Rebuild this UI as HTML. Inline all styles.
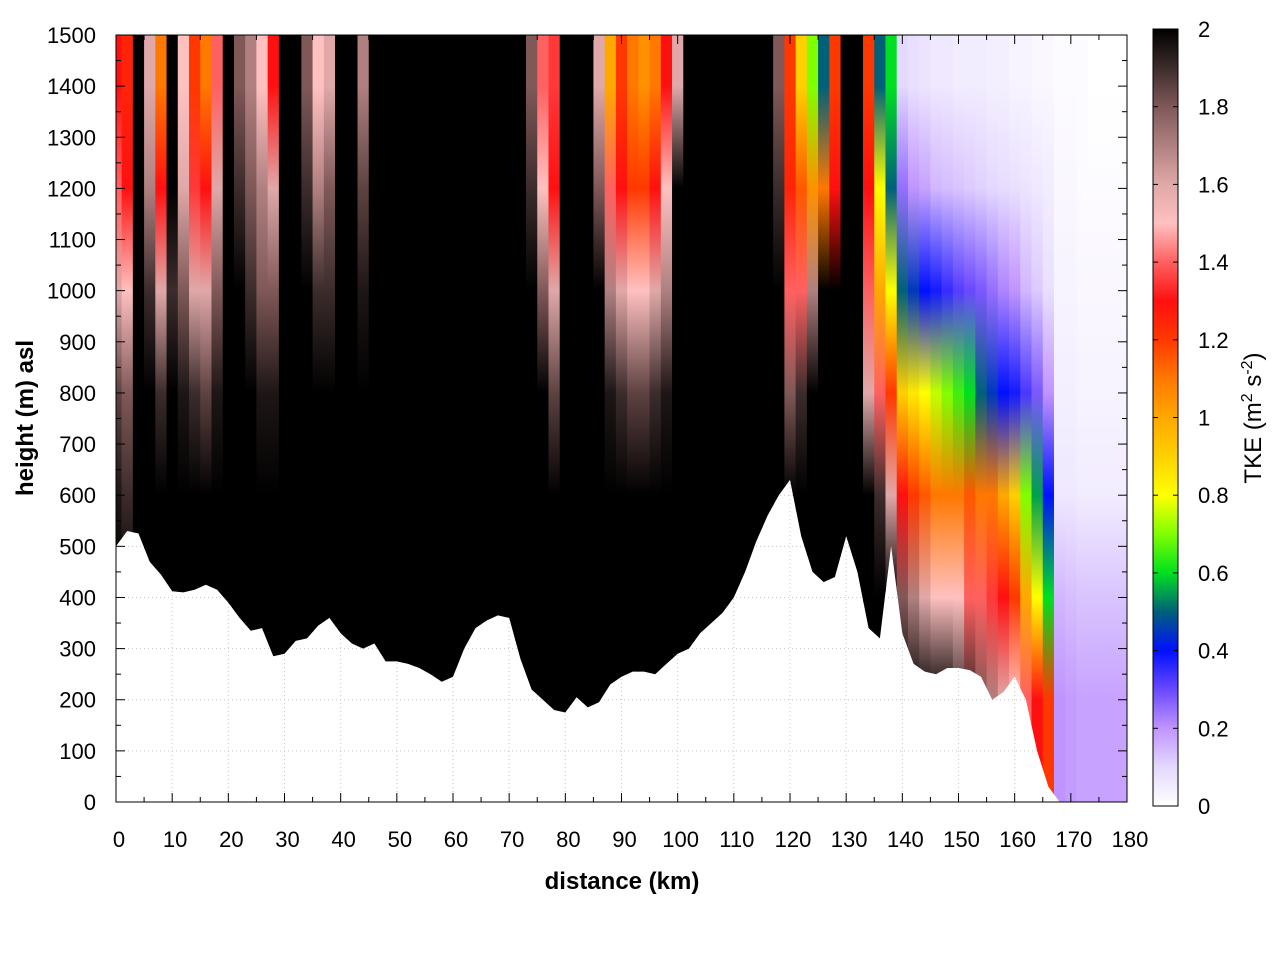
<!DOCTYPE html>
<html><head><meta charset="utf-8"><style>
html,body{margin:0;padding:0;background:#fff;}
svg{display:block;font-family:"Liberation Sans",sans-serif;}
</style></head><body>
<svg id="chart" width="1280" height="960">
<defs id="defs"></defs>
<g id="grid"></g>
<g id="cells"></g>
<g id="axes"></g>
<g id="cbar"></g>
<text x="622" y="889" text-anchor="middle" font-size="24" font-weight="bold">distance (km)</text>
<text transform="translate(33,418) rotate(-90)" text-anchor="middle" font-size="24" font-weight="bold">height (m) asl</text>
<text transform="translate(1261,418) rotate(-90)" text-anchor="middle" font-size="24">TKE (m<tspan dy="-9" font-size="16">2</tspan><tspan dy="9"> s</tspan><tspan dy="-9" font-size="16">-2</tspan><tspan dy="9">)</tspan></text>
</svg>
<script>
// distance columns every 2 km, 0..180
const distances = [0,2,4,6,8,10,12,14,16,18,20,22,24,26,28,30,32,34,36,38,40,42,44,46,48,50,52,54,56,58,60,62,64,66,68,70,72,74,76,78,80,82,84,86,88,90,92,94,96,98,100,102,104,106,108,110,112,114,116,118,120,122,124,126,128,130,132,134,136,138,140,142,144,146,148,150,152,154,156,158,160,162,164,166,168,170,172,174,176,178,180];
const terrain = [500,530,525,470,445,412,410,415,425,415,390,360,335,340,285,290,315,320,345,360,330,310,300,310,275,275,270,262,250,235,245,300,340,355,365,360,280,220,200,180,175,205,185,195,230,245,255,255,250,270,290,300,330,350,370,400,450,510,560,600,630,520,450,430,440,520,450,340,320,500,330,270,255,250,262,262,258,245,200,215,245,200,100,30,0,0,0,0,0,0,0];
const levels = [1400,1200,1000,800,600,400,200];
const tke1400 = [1.3,1.25,2,1.6,1.1,2,1.5,1.2,1.1,1.4,2,1.8,1.7,1.5,1.3,2,2,1.8,1.5,1.6,2,
 2,1.7,2,2,2,2,2,2,2,2,2,2,2,2,2,2,1.8,
 1.4,1.35,2,2,2,1.6,
 1.0,1.2,1.1,1.05,1.1,1.3,1.6,
 2,2,2,2,2,2,2,2,1.8,
 1.2,0.9,0.7,0.5,1.2,
 2,2,1.2,0.5,0.6,
 0.1,0.08,0.07,0.06,0.06,0.05,0.05,0.05,0.04,0.04,0.03,0.03,0.02,0.02,
 0.01,0.01,0.01,0.0,0.0,0.0,0.0];
const tke1200 = [1.4,1.3,2,1.7,1.3,2,1.6,1.35,1.3,1.6,2,1.9,1.8,1.7,1.6,2,2,1.9,1.7,1.8,2,
 2,1.85,2,2,2,2,2,2,2,2,2,2,2,2,2,2,1.9,
 1.5,1.3,2,2,2,1.8,
 1.4,1.3,1.2,1.2,1.3,1.5,2,
 2,2,2,2,2,2,2,2,1.9,
 1.25,1.15,1.05,1.1,1.3,
 2,2,1.3,0.8,0.5,
 0.25,0.2,0.18,0.15,0.14,0.13,0.12,0.11,0.1,0.09,0.08,0.07,0.06,0.05,
 0.02,0.02,0.01,0.01,0.01,0.01,0.01];
const tke1000 = [1.6,1.5,2,1.9,1.6,1.9,1.8,1.6,1.6,1.8,2,2,1.9,1.8,1.8,2,2,2,1.9,1.9,2,
 2,1.95,2,2,2,2,2,2,2,2,2,2,2,2,2,2,2,
 1.8,1.6,2,2,2,2,
 1.7,1.6,1.5,1.5,1.6,1.7,2,
 2,2,2,2,2,2,2,2,2,
 1.4,1.4,1.7,2,2,
 2,2,1.4,1.0,0.8,
 0.5,0.45,0.4,0.38,0.35,0.32,0.3,0.28,0.25,0.22,0.2,0.15,0.12,0.08,
 0.03,0.03,0.02,0.02,0.02,0.02,0.02];
const tke800 = [1.85,1.8,2,2,1.9,2,1.95,1.9,1.85,1.95,2,2,2,1.95,1.95,2,2,2,2,2,2,
 2,2,2,2,2,2,2,2,2,2,2,2,2,2,2,2,2,
 2,1.85,2,2,2,2,
 1.95,1.9,1.85,1.85,1.9,1.95,2,
 2,2,2,2,2,2,2,2,2,
 1.8,1.9,2,2,2,
 2,2,1.6,1.4,1.2,
 0.9,0.85,0.8,0.75,0.7,0.65,0.6,0.5,0.45,0.4,0.38,0.33,0.28,0.2,
 0.04,0.04,0.03,0.03,0.03,0.03,0.03];
const tke600 = [1.95,1.9,2,2,2,2,2,2,2,2,2,2,2,2,2,2,2,2,2,2,2,
 2,2,2,2,2,2,2,2,2,2,2,2,2,2,2,2,2,
 2,2,2,2,2,2,
 2,2,2,2,2,2,2,
 2,2,2,2,2,2,2,2,2,
 2,2,2,2,2,
 2,2,2,1.9,1.6,
 1.3,1.2,1.15,1.1,1.1,1.1,1.15,1.1,1.1,1.0,0.9,0.7,0.55,0.4,
 0.06,0.06,0.05,0.05,0.05,0.05,0.05];
const tke400 = [2,2,2,2,2,2,2,2,2,2,2,2,2,2,2,2,2,2,2,2,2,
 2,2,2,2,2,2,2,2,2,2,2,2,2,2,2,2,2,
 2,2,2,2,2,2,
 2,2,2,2,2,2,2,
 2,2,2,2,2,2,2,2,2,
 2,2,2,2,2,
 2,2,2,2,2,
 1.8,1.7,1.6,1.5,1.5,1.5,1.4,1.4,1.35,1.3,1.2,1.0,0.8,0.6,
 0.15,0.14,0.13,0.13,0.13,0.13,0.13];
const tke200 = [2,2,2,2,2,2,2,2,2,2,2,2,2,2,2,2,2,2,2,2,2,
 2,2,2,2,2,2,2,2,2,2,2,2,2,2,2,2,2,
 2,2,2,2,2,2,
 2,2,2,2,2,2,2,
 2,2,2,2,2,2,2,2,2,
 2,2,2,2,2,
 2,2,2,2,2,
 2,2,2,2,2,1.9,1.9,1.8,1.7,1.6,1.5,1.4,1.3,1.2,
 0.2,0.19,0.18,0.18,0.18,0.18,0.18];
const xTicks = [0,10,20,30,40,50,60,70,80,90,100,110,120,130,140,150,160,170,180];
const yTicks = [0,100,200,300,400,500,600,700,800,900,1000,1100,1200,1300,1400,1500];
const cbTicks = ["0","0.2","0.4","0.6","0.8","1","1.2","1.4","1.6","1.8","2"];

const NS="http://www.w3.org/2000/svg";
const L=116,R=1127,T=35,B=802;
const xs=k=>L+(k/180)*(R-L);
const ys=h=>B-(h/1500)*(B-T);
const cmap=[[0,"#ffffff"],[0.1,"#e4d8ff"],[0.2,"#c094ff"],[0.3,"#6a48ff"],[0.4,"#0010ff"],[0.5,"#00607a"],[0.6,"#00e020"],[0.7,"#80ff00"],[0.8,"#ffff00"],[0.9,"#ffd000"],[1.0,"#ffa800"],[1.1,"#ff7800"],[1.2,"#ff3800"],[1.3,"#ff1010"],[1.4,"#ff6060"],[1.5,"#ffc0c0"],[1.6,"#e0a8a8"],[1.7,"#b08080"],[1.8,"#805858"],[1.9,"#3c2c2c"],[2,"#000000"]];
function hex(c){return [1,3,5].map(i=>parseInt(c.substr(i,2),16));}
function color(v){v=Math.max(0,Math.min(2,v));for(let i=1;i<cmap.length;i++){if(v<=cmap[i][0]){const a=cmap[i-1],b=cmap[i];const t=(v-a[0])/(b[0]-a[0]);const ca=hex(a[1]),cb=hex(b[1]);return "rgb("+ca.map((c,j)=>Math.round(c+(cb[j]-c)*t)).join(",")+")";}}return "#000";}
function el(tag,attrs,parent){const e=document.createElementNS(NS,tag);for(const k in attrs)e.setAttribute(k,attrs[k]);parent.appendChild(e);return e;}
const defs=document.getElementById('defs');
const grid=document.getElementById('grid');
const cells=document.getElementById('cells');
const axes=document.getElementById('axes');
const cbar=document.getElementById('cbar');

xTicks.forEach(k=>{const g=el('line',{x1:xs(k),x2:xs(k),y1:T,y2:B,stroke:'#c8c8c8','stroke-dasharray':'1,3','stroke-width':1},grid);

});
yTicks.forEach(h=>{const g=el('line',{x1:L,x2:R,y1:ys(h),y2:ys(h),stroke:'#c8c8c8','stroke-dasharray':'1,3','stroke-width':1},grid);

});

const cp=el('clipPath',{id:'above'},defs);
let d="M"+L+","+T;
distances.forEach((k,i)=>{d+=" L"+Math.max(L,Math.min(R,xs(k))).toFixed(1)+","+ys(terrain[i]).toFixed(1);});
d+=" L"+R+","+T+" Z";
el('path',{d:d},cp);
cells.setAttribute('clip-path','url(#above)');
const rows=[tke1400,tke1200,tke1000,tke800,tke600,tke400,tke200];
const w=(R-L)/90;
distances.forEach((k,i)=>{
  const gid='g'+i;
  const lg=el('linearGradient',{id:gid,gradientUnits:'userSpaceOnUse',x1:0,x2:0,y1:T,y2:B},defs);
  levels.forEach((h,j)=>{el('stop',{offset:((1500-h)/1500).toFixed(4),'stop-color':color(rows[j][i])},lg);});
  const x0=Math.max(L,xs(k)-w/2),x1=Math.min(R,xs(k)+w/2);
  const r=el('rect',{x:x0,y:T,width:x1-x0+0.6,height:B-T,fill:'url(#'+gid+')'},cells);
  
  
});

el('rect',{x:L,y:T,width:R-L,height:B-T,fill:'none',stroke:'#000','stroke-width':1},axes);
for(let k=0;k<=180;k+=5){const len=k%10===0?9:5;
 el('line',{x1:xs(k),x2:xs(k),y1:B,y2:B-len,stroke:'#000'},axes);
 el('line',{x1:xs(k),x2:xs(k),y1:T,y2:T+len,stroke:'#000'},axes);}
for(let h=0;h<=1500;h+=50){const len=h%100===0?9:5;
 el('line',{x1:L,x2:L+len,y1:ys(h),y2:ys(h),stroke:'#000'},axes);
 el('line',{x1:R,x2:R-len,y1:ys(h),y2:ys(h),stroke:'#000'},axes);}
xTicks.forEach(k=>{const t=el('text',{x:xs(k)+3,y:847,'text-anchor':'middle','font-size':22},axes);t.textContent=k;

});
yTicks.forEach(h=>{const t=el('text',{x:96,y:ys(h)+8,'text-anchor':'end','font-size':22},axes);t.textContent=h;

});

const CT=29,CB=806,CL=1153,CW=25;
const cg=el('linearGradient',{id:'cbg',x1:0,x2:0,y1:1,y2:0},defs);
cmap.forEach(s=>el('stop',{offset:s[0]/2,'stop-color':s[1]},cg));
const cr=el('rect',{x:CL,y:CT,width:CW,height:CB-CT,fill:'url(#cbg)',stroke:'#000'},cbar);


cbTicks.forEach((lab,i)=>{const y=CB-i*(CB-CT)/10;
 el('line',{x1:CL,x2:CL+5,y1:y,y2:y,stroke:'#000'},cbar);
 el('line',{x1:CL+CW,x2:CL+CW-5,y1:y,y2:y,stroke:'#000'},cbar);
 const t=el('text',{x:1198,y:y+8,'font-size':22},cbar);t.textContent=lab;
 
 });
</script>
</body></html>
